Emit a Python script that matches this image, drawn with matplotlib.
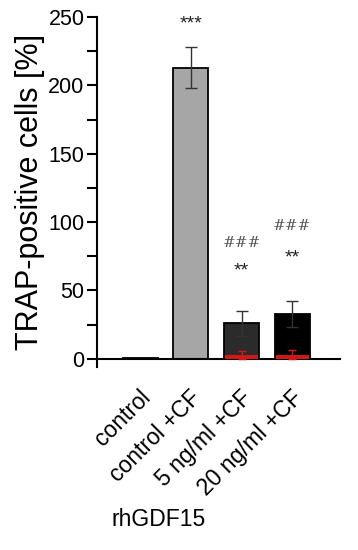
import numpy as np
import matplotlib.pyplot as plt

plt.rcParams['font.family'] = ['Liberation Sans', 'DejaVu Sans']

# data
groups = ["control", "control +CF", "5 ng/ml +CF", "20 ng/ml +CF"]
means = [0.5, 213, 26, 33]
errs = [0, 15, 9, 9.5]
bar_colors = ["white", "#a6a6a6", "#2b2b2b", "#000000"]
red_means = [0, 0, 3, 3]
red_errs = [0, 0, 3, 3.5]
stars = ["", "***", "**", "**"]
hashes = ["", "", "###", "###"]
star_y = [0, 245, 64, 74]
hash_y = [0, 0, 85, 97]

fig = plt.figure(figsize=(3.58, 5.5), dpi=100)
ax = fig.add_axes([97 / 358, (550 - 367) / 550, (340 - 97) / 358, (367 - 17) / 550])

x = np.arange(len(groups))
w = 0.69
ax.bar(x, means, width=w, color=bar_colors, edgecolor="black", linewidth=1.3, zorder=2)
ax.errorbar(x[1:], means[1:], yerr=errs[1:], fmt="none", ecolor="#333333",
            elinewidth=1, capsize=4, capthick=1, zorder=3)
ax.bar(x[2:], red_means[2:], width=w - 0.04, color="#d01818", linewidth=0, zorder=4)
ax.errorbar(x[2:], red_means[2:], yerr=red_errs[2:], fmt="none", ecolor="#d01818",
            elinewidth=1, capsize=3, capthick=1, zorder=5)

for xi, s, sy in zip(x, stars, star_y):
    if s:
        ax.text(xi, sy, s, ha="center", va="center", fontsize=14, color="#222222")
for xi, h, hy in zip(x, hashes, hash_y):
    if h:
        ax.text(xi, hy, h, ha="center", va="center", fontsize=11, color="#555555",
                family="DejaVu Serif", style="italic")

ax.set_xlim(-0.85, 3.94)
ax.set_ylim(-6, 250)
ax.spines["bottom"].set_position(("data", 0))
ax.spines["top"].set_visible(False)
ax.spines["right"].set_visible(False)
ax.spines["left"].set_bounds(-6, 250)
for s in ("left", "bottom"):
    ax.spines[s].set_linewidth(1.5)

ax.set_yticks(np.arange(0, 251, 50))
ax.set_yticks(np.arange(25, 251, 50), minor=True)
ax.tick_params(axis="y", which="both", direction="out", length=7, width=1.5,
               labelsize=15.5, pad=2)
ax.tick_params(axis="x", length=0)
ax.set_xticks(x)
ax.set_xticklabels([])

for xi, lab in zip(x, groups):
    ax.annotate(lab, xy=(xi, 0), xycoords="data", xytext=(-1, -19.5), textcoords="offset points",
                rotation=45, ha="right", va="top", fontsize=16.5, rotation_mode="anchor")

ax.set_ylabel("TRAP-positive cells [%]", fontsize=22, labelpad=2)
fig.text(159 / 358, 1 - 520 / 550, "rhGDF15", ha="center", va="center", fontsize=16.5)

fig.savefig("out.png", dpi=100)
